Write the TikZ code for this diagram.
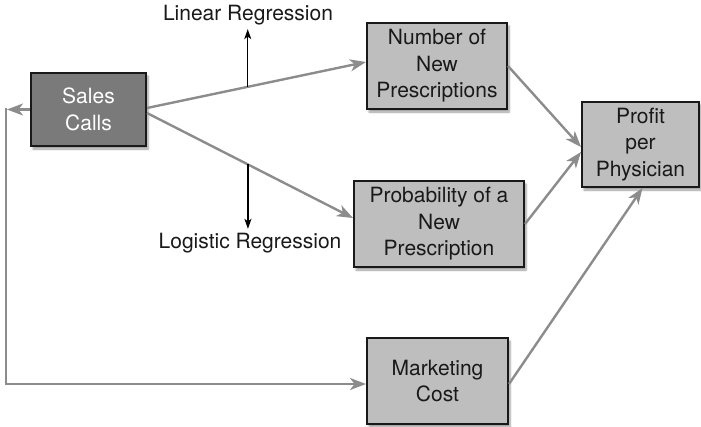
\documentclass[tikz,border=0pt]{standalone}
\usepackage{fontspec}
\setmainfont{TeX Gyre Heros}
\usetikzlibrary{arrows.meta,shadows.blur}
\definecolor{boxfill}{HTML}{BEBEBE}
\definecolor{darkfill}{HTML}{7A7A7A}
\definecolor{linegray}{HTML}{8C8C8C}
\tikzset{
  box/.style={draw=black!90, line width=2pt, fill=boxfill, rectangle, align=center,
    inner sep=0pt, text=black!90,
    blur shadow={shadow xshift=2pt, shadow yshift=-3pt, shadow blur steps=6, shadow opacity=40}},
  darkbox/.style={box, fill=darkfill, text=white},
  conn/.style={draw=linegray, line width=2.4pt, -{Stealth[length=16pt,width=12pt,inset=4.5pt]}},
  blackarr/.style={draw=black, line width=1.4pt, -{Stealth[length=10pt,width=7pt,inset=2.5pt]}},
  lbl/.style={inner sep=0pt, text=black!90},
}
\begin{document}
\begin{tikzpicture}[x=1pt,y=-1pt,font=\fontsize{21}{26.5}\selectfont]
\useasboundingbox (0,0) rectangle (701,426);
\node[darkbox, minimum width=115pt, minimum height=73pt] (sc) at (88.5,109.5) {Sales\\Calls};
\node[box, minimum width=140pt, minimum height=86pt] (nn) at (437,66) {Number of\\New\\Prescriptions};
\node[box, minimum width=170pt, minimum height=86pt] (pp) at (439,224) {Probability of a\\New\\Prescription};
\node[box, minimum width=141pt, minimum height=86pt] (mc) at (437.5,381) {Marketing\\Cost};
\node[box, minimum width=117pt, minimum height=85pt] (pf) at (640.5,144.5) {Profit\\per\\Physician};
\node[lbl] (lin) at (248,15) {Linear Regression};
\node[lbl] (log) at (250,243) {Logistic Regression};
% connectors
\draw[conn] ([yshift=1.5pt]sc.east) -- coordinate[pos=0.46] (lu) ([yshift=4pt]nn.west);
\draw[conn] ([yshift=-3.5pt]sc.east) -- coordinate[pos=0.49] (ld) ([yshift=6pt]pp.west);
\draw[conn] (nn.east) -- ([yshift=-2.5pt]pf.west);
\draw[conn] (pp.east) -- ([yshift=-7.5pt]pf.west);
\draw[conn] ([yshift=-3pt]mc.east) -- ([xshift=2pt]pf.south);
\coordinate (fb) at (6,109.5);
\draw[conn] (sc.west) -- ([xshift=1pt]fb);
\draw[conn] ([yshift=2pt]fb) |- ([yshift=-3pt]mc.west);
% regression arrows
\draw[blackarr, shorten >=4pt] (lu) -- (lu |- lin.south);
\draw[blackarr, shorten >=4pt] (ld) -- (ld |- log.north);
\end{tikzpicture}
\end{document}
